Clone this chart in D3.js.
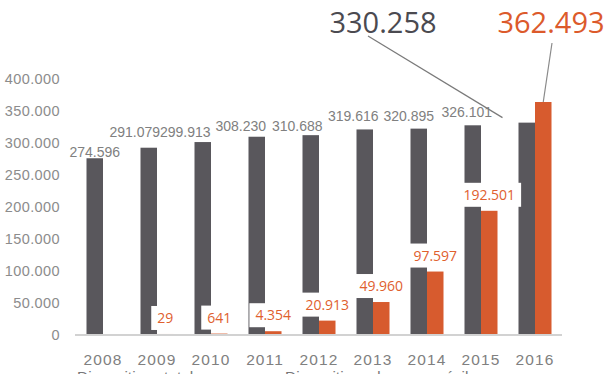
<!DOCTYPE html>
<html>
<head>
<meta charset="utf-8">
<script src="https://cdn.jsdelivr.net/npm/d3@7/dist/d3.min.js"></script>
<style>
  html, body { margin: 0; padding: 0; background: #ffffff; }
  svg { display: block; }
</style>
</head>
<body>
<svg id="chart" width="606" height="374"></svg>
<script>
// ---- data ----
const years = ["2008","2009","2010","2011","2012","2013","2014","2015","2016"];
const totalValues = [274596, 291079, 299913, 308230, 310688, 319616, 320895, 326101, 330258];
const contactlessValues = [null, 29, 641, 4354, 20913, 49960, 97597, 192501, 362493];
const yTicks = [0, 50000, 100000, 150000, 200000, 250000, 300000, 350000, 400000];
const seriesNames = ["Dispositivos totales", "Dispositivos de pago móvil"];

// ---- layout (not data) ----
const greyLabelShift = [[0,-1.5],[-14,-10.5],[-17.5,-5],[-16,-5.5],[-13.5,-4],[-11.5,-8.3],[-10,-7.6],[-6,-8.3]];

const fmt = v => d3.format(",")(v).replace(/,/g, ".");

const svg = d3.select("#chart");
const GREY = "#59575c", ORANGE = "#d75b2e";

const x = d3.scaleBand().domain(years).range([76, 562]);
const xs = d3.scaleBand().domain(["total","ctl"]).range([-16.5, 16.5]);
const y = d3.scaleLinear().domain([0, 400000]).range([334, 78]);

// y axis labels
const yAxis = d3.axisLeft(y).tickValues(yTicks).tickSize(0).tickPadding(0).tickFormat(fmt);
const gy = svg.append("g").attr("transform", "translate(60,0)").call(yAxis);
gy.select(".domain").remove();
gy.selectAll("text")
  .attr("font-family", "Liberation Sans, Arial, sans-serif")
  .attr("font-size", 14.5)
  .attr("letter-spacing", 0.4)
  .attr("fill", "#8c8c8c")
  .attr("dy", "0.36em");

// x axis labels
const xAxis = d3.axisBottom(x).tickSize(0).tickPadding(0);
const gx = svg.append("g").attr("transform", "translate(0,354)").call(xAxis);
gx.select(".domain").remove();
gx.selectAll("text")
  .attr("font-family", "Liberation Sans, Arial, sans-serif")
  .attr("font-size", 15.5)
  .attr("letter-spacing", 1.1)
  .attr("fill", "#808080")
  .attr("dy", "0.72em");

const data = years.map((yr, i) => ({ year: yr, total: totalValues[i], ctl: contactlessValues[i], i }));

// grey bars
svg.append("g").selectAll("rect").data(data).join("rect")
  .attr("x", d => x(d.year) + x.bandwidth()/2 + xs("total"))
  .attr("width", xs.bandwidth())
  .attr("y", d => y(d.total))
  .attr("height", d => y(0) - y(d.total))
  .attr("fill", GREY);

// orange bars
svg.append("g").selectAll("rect").data(data.filter(d => d.ctl != null)).join("rect")
  .attr("x", d => x(d.year) + x.bandwidth()/2 + xs("ctl"))
  .attr("width", xs.bandwidth())
  .attr("y", d => y(d.ctl))
  .attr("height", d => y(0) - y(d.ctl))
  .attr("fill", ORANGE);

// baseline
svg.append("line")
  .attr("x1", 75).attr("x2", 562)
  .attr("y1", y(0) + 1).attr("y2", y(0) + 1)
  .attr("stroke", "#d2d2d2").attr("stroke-width", 2);

// grey value labels (not for last year)
svg.append("g").selectAll("text").data(data.slice(0, 8)).join("text")
  .attr("x", d => x(d.year) + x.bandwidth()/2 + xs("total") + xs.bandwidth()/2 + greyLabelShift[d.i][0])
  .attr("y", d => y(d.total) + greyLabelShift[d.i][1])
  .attr("text-anchor", "middle")
  .attr("font-family", "Liberation Sans, Arial, sans-serif")
  .attr("font-size", 14)
  .attr("fill", "#808080")
  .text(d => fmt(d.total));

// orange value labels with white boxes (not for last year)
const oLab = svg.append("g").selectAll("g").data(data.filter(d => d.ctl != null && d.year !== "2016")).join("g")
  .attr("transform", d => `translate(${x(d.year) + x.bandwidth()/2 + xs("ctl") + xs.bandwidth()/2},${y(d.ctl) - 4})`);
oLab.append("rect").attr("class", "bg");
oLab.append("text")
  .attr("text-anchor", "middle")
  .attr("y", -12)
  .attr("dy", "0.36em")
  .attr("font-family", "Open Sans, sans-serif")
  .attr("font-weight", 500)
  .attr("font-size", 14)
  .attr("fill", "#e0602e")
  .text(d => fmt(d.ctl));
oLab.each(function() {
  const g = d3.select(this);
  const w = g.select("text").node().getComputedTextLength() + 12;
  g.select("rect.bg").attr("x", -w/2).attr("y", -24).attr("width", w).attr("height", 24).attr("fill", "#fff");
});

// big callouts for 2016
const last = data[8];
const gBarX = x(last.year) + x.bandwidth()/2 + xs("total");
const oBarCx = x(last.year) + x.bandwidth()/2 + xs("ctl") + xs.bandwidth()/2;

svg.append("line")
  .attr("x1", 368).attr("y1", 36)
  .attr("x2", gBarX - 16).attr("y2", y(last.total) - 5)
  .attr("stroke", "#7a7a7a").attr("stroke-width", 1.2);
svg.append("line")
  .attr("x1", 552).attr("y1", 43)
  .attr("x2", oBarCx).attr("y2", y(last.ctl))
  .attr("stroke", "#8a8a8a").attr("stroke-width", 1.2);

svg.append("text")
  .attr("x", 383).attr("y", 33)
  .attr("text-anchor", "middle")
  .attr("font-family", "Open Sans, sans-serif")
  .attr("font-size", 29)
  .attr("fill", "#4b4a50")
  .text(fmt(last.total));
svg.append("text")
  .attr("x", 551).attr("y", 33)
  .attr("text-anchor", "middle")
  .attr("font-family", "Open Sans, sans-serif")
  .attr("font-size", 29)
  .attr("fill", "#dc5a2b")
  .text(fmt(last.ctl));

// legend (cut off at bottom edge as in original)
svg.append("g").selectAll("text").data(seriesNames).join("text")
  .attr("x", (d, i) => i === 0 ? 77 : 285)
  .attr("y", 382)
  .attr("font-family", "Liberation Sans, Arial, sans-serif")
  .attr("font-size", 15.5)
  .attr("fill", "#777")
  .text(d => d);
</script>
</body>
</html>
